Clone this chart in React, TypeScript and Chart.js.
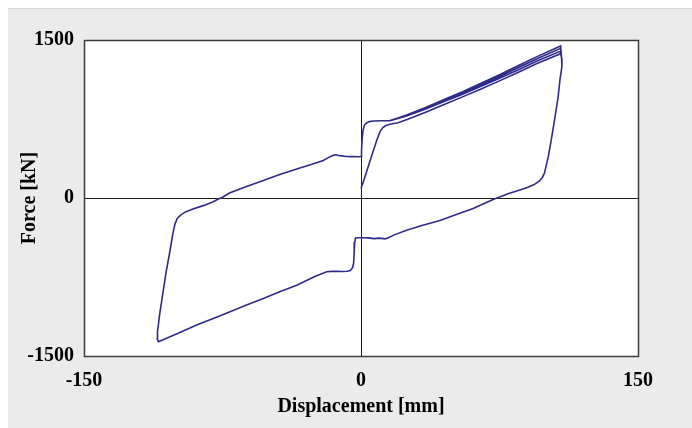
import { useEffect, useRef } from 'react';
import { Chart, registerables } from 'chart.js';

Chart.register(...registerables);

// Axis ticks
const xTickValues = [-150, 0, 150];
const yTickValues = [-1500, 0, 1500];
const xTitle = 'Displacement [mm]';
const yTitle = 'Force [kN]';

// Initial loading branch (from origin to first positive peak)
const initialDisp = [0, 1, 2.5, 4.5, 6.5, 8.5, 10.3, 11.8, 13.5, 15.7, 20, 25, 35, 45, 55, 65, 75, 85, 95, 108.1];
const initialForce = [90, 140, 220, 330, 440, 545, 630, 668, 688, 700, 715, 745, 815, 888, 960, 1035, 1112, 1192, 1274, 1370];

// Unloading from positive peak down to the negative peak
const unloadDisp = [108.6, 108.8, 107.8, 106.7, 105, 103.3, 101.5, 100.2, 99.4, 98.2, 96.5, 93.5, 90, 86, 80, 75.5, 74, 72.5, 67, 60.7, 52, 42.8, 33, 24.7, 18, 14.5, 13, 10, 7, 4, 1, -1, -3, -3.4, -3.7, -4.0, -4.6, -5.8, -7.5, -10, -13, -16, -18.6, -25, -34.8, -44, -52.9, -62, -70.9, -80, -89, -99, -109.7];
const unloadForce = [1330, 1250, 1130, 954, 760, 580, 400, 300, 240, 195, 160, 125, 100, 76, 42, 12, 3, -8, -50, -100, -155, -213, -262, -307, -350, -380, -388, -381, -386, -379, -378, -377, -380, -420, -520, -620, -662, -688, -696, -698, -695, -697, -700, -745, -828, -890, -954, -1015, -1080, -1145, -1206, -1285, -1364];

// Reloading from negative peak up to the positive plateau
const reloadDisp = [-110.3, -110.2, -109, -107.3, -105.5, -103.4, -102, -100.8, -99.5, -97.5, -95, -91, -85, -80, -77, -75.5, -73, -70.9, -62, -52.9, -44, -34.8, -27, -20.4, -17, -15, -13.5, -11.5, -8, -4, -1, 0, 0.3, 0.6, 1.1, 1.8, 3, 4.5, 7, 11, 15.7];
const reloadForce = [-1340, -1270, -1100, -906, -700, -497, -350, -250, -195, -160, -132, -105, -70, -35, -8, 3, 28, 50, 110, 166, 222, 276, 318, 357, 390, 405, 410, 402, 394, 393, 392, 395, 450, 560, 640, 690, 712, 725, 731, 733, 735];

// Upper positive branches of the three cycles
const upperDisp = [20, 25, 35, 45, 55, 65, 75, 85, 95, 108.1];
const cycle1Force = [760, 790, 860, 935, 1010, 1090, 1170, 1255, 1340, 1443];
const cycle2Force = [757, 786, 853, 925, 998, 1075, 1153, 1236, 1320, 1421];
const cycle3Force = [754, 781, 845, 915, 985, 1060, 1136, 1216, 1298, 1395];

const pts = (xs: number[], ys: number[]) => xs.map((x, i) => ({ x, y: ys[i] }));

const loopPath = [
  ...pts(initialDisp, initialForce),
  ...pts(unloadDisp, unloadForce),
  ...pts(reloadDisp, reloadForce),
  ...pts(upperDisp, cycle1Force),
  ...pts(unloadDisp, unloadForce),
  ...pts(reloadDisp, reloadForce),
  ...pts(upperDisp, cycle2Force),
  ...pts(unloadDisp, unloadForce),
  ...pts(reloadDisp, reloadForce),
  ...pts(upperDisp, cycle3Force),
  ...pts(unloadDisp, unloadForce),
];

const FONT = "'Liberation Serif', 'Times New Roman', serif";

const framePlugin = {
  id: 'frame',
  beforeDraw(chart: any) {
    const { ctx, chartArea: a } = chart;
    ctx.save();
    ctx.fillStyle = '#ffffff';
    ctx.fillRect(a.left, a.top, a.right - a.left, a.bottom - a.top);
    ctx.restore();
  },
  beforeDatasetsDraw(chart: any) {
    const { ctx, chartArea: a } = chart;
    ctx.save();
    ctx.strokeStyle = '#3c3c3c';
    ctx.lineWidth = 1.5;
    ctx.strokeRect(Math.round(a.left) + 0.5, Math.round(a.top) + 0.5, Math.round(a.right - a.left), Math.round(a.bottom - a.top));
    ctx.restore();
  },
};

export default function App() {
  const ref = useRef<HTMLCanvasElement>(null);
  useEffect(() => {
    if (!ref.current) return;
    const zeroGrid = (c: any) => (c.tick && c.tick.value === 0 ? '#1a1a1a' : 'rgba(0,0,0,0)');
    const chart = new Chart(ref.current, {
      type: 'scatter',
      data: {
        datasets: [
          {
            data: loopPath,
            showLine: true,
            borderColor: '#2e2b8a',
            backgroundColor: '#2e2b8a',
            borderWidth: 1.6,
            pointRadius: 0,
            tension: 0,
            fill: false,
          },
        ],
      },
      options: {
        responsive: false,
        animation: false,
        events: [],
        layout: { padding: { top: 31, right: 54, left: 0, bottom: 0 } },
        plugins: { legend: { display: false }, tooltip: { enabled: false } },
        scales: {
          x: {
            type: 'linear',
            min: -150,
            max: 150,
            afterBuildTicks: (s: any) => { s.ticks = xTickValues.map((v) => ({ value: v })); },
            afterFit: (s: any) => { s.height = 72; },
            ticks: {
              padding: 13,
              color: '#000',
              font: { family: FONT, size: 20, weight: 'bold' },
              callback: (v: any) => String(v),
            },
            grid: { color: zeroGrid, lineWidth: 1, drawTicks: false },
            border: { display: false },
            title: {
              display: true,
              text: xTitle,
              color: '#000',
              font: { family: FONT, size: 20, weight: 'bold' },
              padding: { top: 0, bottom: 9 },
            },
          },
          y: {
            type: 'linear',
            min: -1500,
            max: 1500,
            afterBuildTicks: (s: any) => { s.ticks = yTickValues.map((v) => ({ value: v })); },
            afterFit: (s: any) => { s.width = 76; },
            ticks: {
              padding: 10,
              color: '#000',
              font: { family: FONT, size: 20, weight: 'bold' },
              callback: (v: any) => String(v),
            },
            grid: { color: zeroGrid, lineWidth: 1, drawTicks: false },
            border: { display: false },
            title: {
              display: true,
              text: yTitle,
              color: '#000',
              font: { family: FONT, size: 20, weight: 'bold' },
              padding: { top: 10, bottom: 0 },
            },
          },
        },
      },
      plugins: [framePlugin],
    } as any);
    return () => chart.destroy();
  }, []);
  return (
    <div
      style={{
        position: 'fixed',
        left: 8,
        top: 8,
        right: 0,
        bottom: 0,
        background: '#ebebeb',
        borderTop: '1px solid #d4d4d4',
        boxSizing: 'border-box',
      }}
    >
      <canvas ref={ref} width={684} height={419} style={{ display: 'block' }} />
    </div>
  );
}
